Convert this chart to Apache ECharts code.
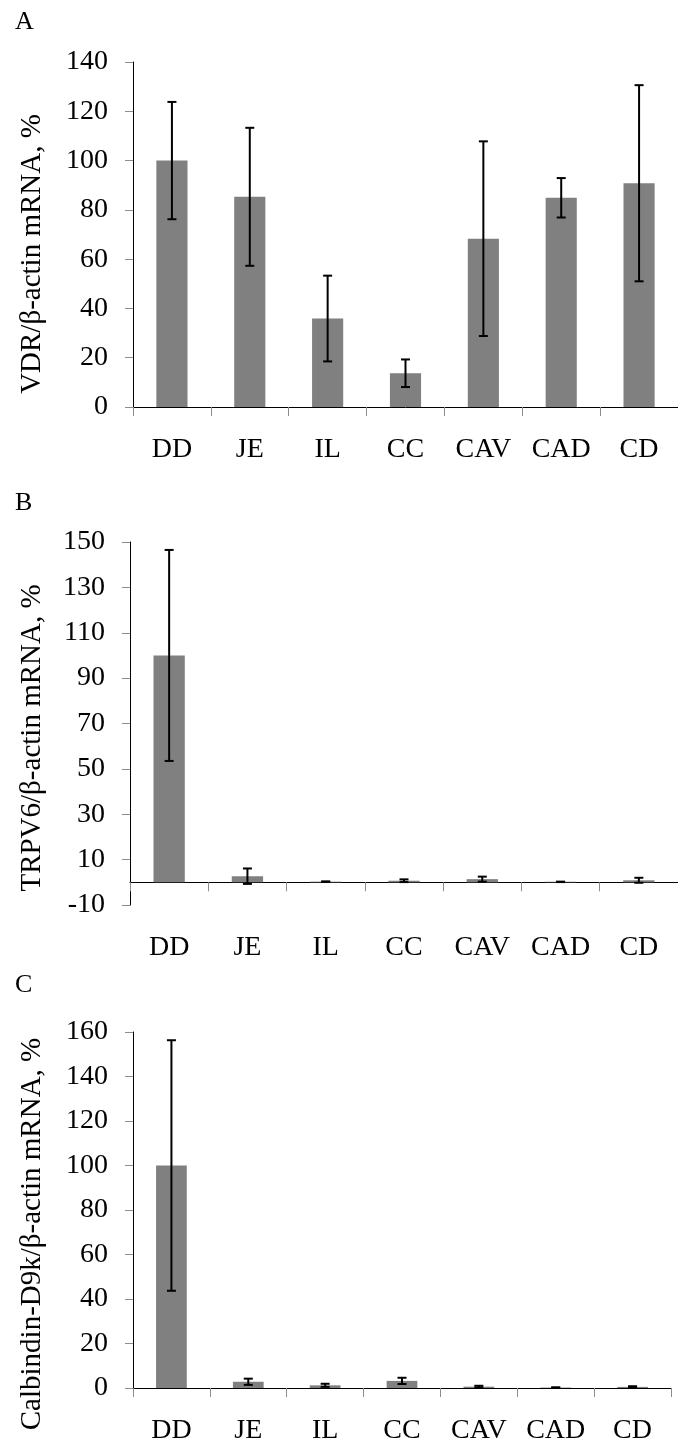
<!DOCTYPE html>
<html><head><meta charset="utf-8">
<script src="https://cdn.jsdelivr.net/npm/echarts@6/dist/echarts.min.js"></script>
<style>html,body{margin:0;padding:0;background:#fff}#c{width:678px;height:1445px}</style>
</head><body><div id="c"></div>
<script>
const categories = ['DD', 'JE', 'IL', 'CC', 'CAV', 'CAD', 'CD'];
const vdrMean = [100, 85.3, 35.9, 13.7, 68.3, 84.9, 90.8];
const vdrErr = [23.8, 28.0, 17.4, 5.6, 39.5, 8.0, 39.8];
const trpv6Mean = [100, 2.7, 0.3, 0.7, 1.4, 0.2, 0.9];
const trpv6Err = [46.5, 3.4, 0.1, 0.6, 1.1, 0.1, 1.1];
const calbMean = [100, 2.8, 1.2, 3.2, 0.6, 0.2, 0.5];
const calbErr = [56.3, 1.4, 0.7, 1.4, 0.4, 0.1, 0.3];
const panelLetters = ['A', 'B', 'C'];
const yTitles = ['VDR/β-actin mRNA, %', 'TRPV6/β-actin mRNA, %', 'Calbindin-D9k/β-actin mRNA, %'];
const yMin = [0, -10, 0];
const yMax = [140, 150, 160];
const yInterval = [20, 20, 20];

const FONT = '"Liberation Serif", "Times New Roman", serif';
const chart = echarts.init(document.getElementById('c'));

const grids = [
  {left: 133, top: 62, width: 545, height: 345},
  {left: 130, top: 542, width: 548, height: 363},
  {left: 133, top: 1032, width: 538, height: 358}
];
const titlePos = [[32, 254], [32, 738], [32, 1234]];
const letterPos = [[15, 22], [15, 503], [15, 985]];

function errRender(params, api) {
  const i = api.value(0), lo = api.value(1), hi = api.value(2);
  const pHi = api.coord([i, hi]);
  const pLo = api.coord([i, lo]);
  const w = 4.5;
  const st = {stroke: '#000', lineWidth: 2};
  return {type: 'group', children: [
    {type: 'line', shape: {x1: pHi[0], y1: pHi[1], x2: pLo[0], y2: pLo[1]}, style: st},
    {type: 'line', shape: {x1: pHi[0] - w, y1: pHi[1], x2: pHi[0] + w, y2: pHi[1]}, style: st},
    {type: 'line', shape: {x1: pLo[0] - w, y1: pLo[1], x2: pLo[0] + w, y2: pLo[1]}, style: st}
  ]};
}

const means = [vdrMean, trpv6Mean, calbMean];
const errs = [vdrErr, trpv6Err, calbErr];

const xAxes = [], yAxes = [], series = [], graphics = [];
for (let k = 0; k < 3; k++) {
  xAxes.push({
    type: 'category', gridIndex: k, data: categories,
    axisLine: {onZero: true, lineStyle: {color: '#000', width: 1}},
    axisTick: {show: true, length: 9, lineStyle: {color: '#8c8c8c'}},
    axisLabel: {color: '#000', fontFamily: FONT, fontSize: 28, margin: 29}
  });
  yAxes.push({
    type: 'value', gridIndex: k, min: yMin[k], max: yMax[k], interval: yInterval[k],
    splitLine: {show: false},
    axisLine: {show: true, lineStyle: {color: '#000', width: 1}},
    axisTick: {show: true, length: 8, lineStyle: {color: '#8c8c8c'}},
    axisLabel: {color: '#000', fontFamily: FONT, fontSize: 28, margin: 25}
  });
  series.push({
    type: 'bar', xAxisIndex: k, yAxisIndex: k, data: means[k],
    barCategoryGap: '60%', itemStyle: {color: '#808080'}, silent: true
  });
  series.push({
    type: 'custom', xAxisIndex: k, yAxisIndex: k, renderItem: errRender,
    encode: {x: 0, y: [1, 2]}, z: 5, silent: true,
    data: means[k].map((m, i) => [i, m - errs[k][i], m + errs[k][i]])
  });
  graphics.push({
    type: 'text', x: titlePos[k][0], y: titlePos[k][1], rotation: Math.PI / 2,
    style: {text: yTitles[k], font: '29px ' + FONT, fill: '#000', textAlign: 'center', textVerticalAlign: 'middle'}
  });
  graphics.push({
    type: 'text', x: letterPos[k][0], y: letterPos[k][1],
    style: {text: panelLetters[k], font: '26px ' + FONT, fill: '#000', textAlign: 'left', textVerticalAlign: 'middle'}
  });
}

chart.setOption({
  animation: false,
  backgroundColor: '#fff',
  grid: grids,
  xAxis: xAxes,
  yAxis: yAxes,
  series: series,
  graphic: graphics
});
</script>
</body></html>
